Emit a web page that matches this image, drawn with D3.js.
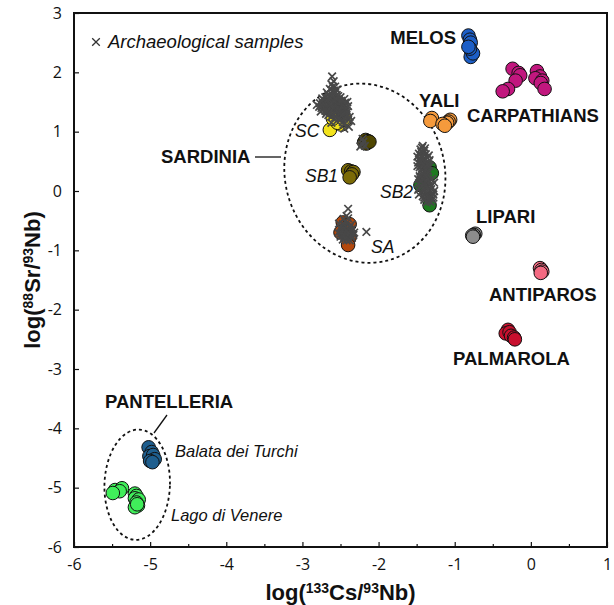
<!DOCTYPE html>
<html>
<head>
<meta charset="utf-8">
<script src="https://cdn.jsdelivr.net/npm/d3@7"></script>
<style>
  html, body { margin: 0; padding: 0; background: #fff; }
  svg { display: block; }
  .tick text { font-family: "Open Sans", "DejaVu Sans", sans-serif; font-size: 16px; fill: #111; }
  .lbl { font-family: "Liberation Sans", Arial, sans-serif; font-weight: bold; font-size: 18.5px; fill: #111; }
  .ita { font-family: "Liberation Sans", Arial, sans-serif; font-style: italic; font-size: 17.5px; fill: #111; }
  .ita.small { font-size: 16.5px; }
  .ita.legend { font-size: 18.5px; }
  .title { font-family: "Liberation Sans", Arial, sans-serif; font-weight: bold; font-size: 22px; fill: #111; }
</style>
</head>
<body>
<svg id="chart" width="614" height="605"></svg>
<script>
// Axis ticks
const xTicks = [-6, -5, -4, -3, -2, -1, 0, 1];
const yTicks = [3, 2, 1, 0, -1, -2, -3, -4, -5, -6];

// Geological source samples: [log(Cs/Nb), log(Sr/Nb)]
const melos = [[-0.82,2.62],[-0.80,2.55],[-0.79,2.50],[-0.78,2.35],[-0.77,2.30],[-0.79,2.26],[-0.76,2.32],[-0.80,2.40],[-0.82,2.43]];
const carpathians = [[-0.24,2.06],[-0.16,1.99],[-0.14,1.95],[-0.20,1.86],[-0.30,1.72],[-0.37,1.68],[0.08,2.02],[0.12,1.93],[0.06,1.90],[0.15,1.86],[0.13,1.82],[0.18,1.72]];
const yali = [[-1.30,1.23],[-1.32,1.18],[-1.06,1.20],[-1.08,1.17],[-1.10,1.15],[-1.16,1.13],[-1.13,1.10]];
const lipari = [[-0.73,-0.72],[-0.75,-0.74],[-0.77,-0.75],[-0.76,-0.77]];
const antiparos = [[0.12,-1.30],[0.14,-1.33],[0.15,-1.36],[0.13,-1.38]];
const palmarola = [[-0.30,-2.34],[-0.33,-2.40],[-0.28,-2.38],[-0.26,-2.44],[-0.22,-2.47],[-0.21,-2.50]];
const balata = [[-5.02,-4.32],[-4.98,-4.40],[-5.01,-4.47],[-4.96,-4.45],[-4.94,-4.52],[-5.00,-4.55],[-4.97,-4.57]];
const lagoVenere = [[-5.46,-5.04],[-5.37,-5.01],[-5.40,-5.06],[-5.49,-5.09],[-5.20,-5.10],[-5.18,-5.14],[-5.20,-5.18],[-5.15,-5.20],[-5.18,-5.25],[-5.16,-5.30],[-5.20,-5.33],[-5.17,-5.28]];
const sc = [[-2.64,1.03],[-2.49,1.12],[-2.44,1.20],[-2.54,1.15],[-2.60,1.22]];
const sbMid = [[-2.19,0.82],[-2.16,0.80],[-2.17,0.86],[-2.14,0.84],[-2.12,0.83]];
const sb1 = [[-2.40,0.35],[-2.36,0.33],[-2.33,0.32],[-2.35,0.28],[-2.38,0.23]];
const sb2 = [[-1.33,0.40],[-1.30,0.30],[-1.45,0.10],[-1.33,-0.24]];
const sa = [[-2.47,-0.53],[-2.38,-0.56],[-2.50,-0.70],[-2.38,-0.78],[-2.40,-0.91]];

// Archaeological samples (crosses)
const archSC = [[-2.61,1.93],[-2.59,1.85],[-2.62,1.80],[-2.57,1.76],[-2.64,1.72],[-2.55,1.70],[-2.60,1.68],
  [-2.78,1.42],[-2.74,1.50],[-2.72,1.38],[-2.70,1.58],[-2.69,1.30],[-2.67,1.46],[-2.66,1.62],[-2.65,1.36],[-2.63,1.52],
  [-2.62,1.25],[-2.61,1.44],[-2.60,1.58],[-2.58,1.33],[-2.57,1.49],[-2.56,1.40],[-2.55,1.62],[-2.54,1.28],[-2.53,1.54],
  [-2.52,1.45],[-2.51,1.36],[-2.50,1.58],[-2.49,1.22],[-2.48,1.48],[-2.47,1.40],[-2.46,1.31],[-2.45,1.55],[-2.44,1.44],
  [-2.43,1.26],[-2.42,1.36],[-2.41,1.50],[-2.40,1.20],[-2.76,1.34],[-2.73,1.44],[-2.71,1.52],[-2.68,1.40],[-2.66,1.28],
  [-2.64,1.58],[-2.63,1.40],[-2.59,1.47],[-2.58,1.55],[-2.56,1.32],[-2.54,1.46],[-2.52,1.38],[-2.50,1.28],[-2.48,1.35],
  [-2.46,1.46],[-2.44,1.34],[-2.42,1.28],[-2.62,1.15],[-2.55,1.18],[-2.47,1.16],[-2.39,1.08],[-2.36,1.18],[-2.45,1.05],
  [-2.81,1.45],[-2.68,1.66],[-2.58,1.64],
  [-2.75,1.40],[-2.72,1.47],[-2.70,1.35],[-2.69,1.52],[-2.67,1.41],[-2.65,1.48],[-2.64,1.31],[-2.62,1.38],[-2.61,1.52],
  [-2.60,1.40],[-2.59,1.29],[-2.57,1.43],[-2.56,1.55],[-2.55,1.36],[-2.53,1.41],[-2.52,1.51],[-2.51,1.30],[-2.50,1.43],
  [-2.49,1.52],[-2.48,1.42],[-2.47,1.29],[-2.45,1.38],[-2.44,1.49],[-2.43,1.40],[-2.41,1.33],[-2.40,1.43],[-2.62,1.63],
  [-2.58,1.69],[-2.60,1.76],[-2.63,1.47],[-2.66,1.55],[-2.53,1.60],[-2.57,1.24],[-2.52,1.22],[-2.45,1.22],[-2.68,1.34],
  [-2.74,1.56],[-2.77,1.48],[-2.38,1.25],[-2.46,1.12]];
const archMid = [[-2.22,0.78],[-2.20,0.83],[-2.18,0.76],[-2.24,0.75],[-2.21,0.88]];
const archSB2 = [[-1.42,0.76],[-1.45,0.70],[-1.40,0.68],[-1.47,0.63],[-1.43,0.60],[-1.38,0.62],[-1.46,0.55],[-1.41,0.54],
  [-1.36,0.56],[-1.48,0.48],[-1.44,0.47],[-1.39,0.46],[-1.35,0.49],[-1.46,0.40],[-1.42,0.39],[-1.37,0.41],[-1.33,0.42],
  [-1.45,0.33],[-1.40,0.32],[-1.35,0.34],[-1.43,0.27],[-1.38,0.26],[-1.44,0.66],[-1.39,0.72],
  [-1.45,0.20],[-1.40,0.21],[-1.35,0.19],[-1.47,0.13],[-1.42,0.12],[-1.37,0.14],[-1.32,0.12],[-1.46,0.05],[-1.41,0.04],
  [-1.36,0.06],[-1.31,0.03],[-1.44,-0.02],[-1.39,-0.03],[-1.34,-0.01],[-1.29,-0.04],[-1.42,-0.09],[-1.37,-0.10],
  [-1.32,-0.08],[-1.28,-0.11],[-1.40,-0.15],[-1.35,-0.16],[-1.30,-0.14],[-1.38,0.09],[-1.33,0.16],
  [-1.43,0.73],[-1.41,0.64],[-1.44,0.58],[-1.40,0.50],[-1.42,0.44],[-1.38,0.36],[-1.41,0.29],[-1.36,0.29],
  [-1.42,0.23],[-1.38,0.17],[-1.43,0.08],[-1.39,0.01],[-1.35,-0.06],[-1.40,-0.11],[-1.33,-0.12],[-1.37,0.24],
  [-1.45,0.50],[-1.36,0.44],[-1.46,0.25],[-1.31,0.08],[-1.37,-0.19],[-1.44,0.16],
  [-1.49,0.58],[-1.49,0.42],[-1.34,0.60],[-1.33,0.52],[-1.48,0.20],[-1.48,0.02],[-1.27,0.00],[-1.27,0.14],
  [-1.28,-0.06],[-1.30,0.20],[-1.47,-0.06],[-1.32,-0.18]];
const archSA = [[-2.40,-0.30],[-2.16,-0.69],[-2.46,-0.47],[-2.40,-0.46],[-2.52,-0.55],[-2.47,-0.56],[-2.42,-0.54],
  [-2.36,-0.57],[-2.50,-0.63],[-2.45,-0.62],[-2.40,-0.64],[-2.34,-0.63],[-2.53,-0.70],[-2.48,-0.71],[-2.43,-0.70],
  [-2.38,-0.72],[-2.32,-0.70],[-2.50,-0.77],[-2.45,-0.78],[-2.40,-0.77],[-2.35,-0.79],[-2.47,-0.82],[-2.42,-0.83],
  [-2.44,-0.51],[-2.49,-0.59],[-2.43,-0.60],[-2.38,-0.61],[-2.47,-0.66],[-2.42,-0.67],[-2.37,-0.67],[-2.51,-0.73],
  [-2.46,-0.74],[-2.41,-0.74],[-2.36,-0.75],[-2.44,-0.80],[-2.38,-0.83],[-2.33,-0.74],[-2.42,-0.42]];

const svg = d3.select("#chart");
const x = d3.scaleLinear().domain([-6, 1]).range([74, 607]);
const y = d3.scaleLinear().domain([-6, 3]).range([547, 13]);

// Axes with inward ticks
const xAxis = svg.append("g").attr("transform", `translate(0,${y(-6)})`)
  .call(d3.axisBottom(x).tickValues(xTicks).tickSizeInner(-5).tickSizeOuter(0).tickPadding(12).tickFormat(d3.format("d")));
svg.append("g").attr("transform", `translate(0,${y(-6)})`)
  .call(d3.axisBottom(x).tickValues(d3.range(-5.5, 1, 1)).tickSizeInner(-3).tickSizeOuter(0).tickFormat(""));
const yAxis = svg.append("g").attr("transform", `translate(${x(-6)},0)`)
  .call(d3.axisLeft(y).tickValues(yTicks).tickSizeInner(-5).tickSizeOuter(0).tickPadding(12).tickFormat(d3.format("d")));
svg.selectAll(".domain").remove();
svg.selectAll(".tick line").attr("stroke", "#111").attr("stroke-width", 1.2);
xAxis.selectAll(".tick text").text(d => d < 0 ? "-" + Math.abs(d) : d);
yAxis.selectAll(".tick text").text(d => d < 0 ? "-" + Math.abs(d) : d);

// Frame
svg.append("rect")
  .attr("x", x(-6)).attr("y", y(3))
  .attr("width", x(1) - x(-6)).attr("height", y(-6) - y(3))
  .attr("fill", "none").attr("stroke", "#111").attr("stroke-width", 2);

// Group outlines (dashed ellipses)
const ellipses = [
  { cx: -2.18, cy: 0.30, rx: 1.05, ry: 1.52, angle: -14 },
  { cx: -5.17, cy: -4.95, rx: 0.43, ry: 0.93, angle: 2 }
];
ellipses.forEach(e => {
  const px = x(e.cx), py = y(e.cy);
  svg.append("ellipse")
    .attr("cx", px).attr("cy", py)
    .attr("rx", x(e.cx + e.rx) - px).attr("ry", py - y(e.cy + e.ry))
    .attr("transform", `rotate(${e.angle},${px},${py})`)
    .attr("fill", "none").attr("stroke", "#111").attr("stroke-width", 1.8)
    .attr("stroke-dasharray", "3,3");
});

// Source groups as filled circles
const groups = [
  { data: melos, color: "#1c5ec6" },
  { data: carpathians, color: "#c1177e" },
  { data: yali, color: "#f59a3c" },
  { data: lipari, color: "#8c8c8c" },
  { data: antiparos, color: "#f46a82" },
  { data: palmarola, color: "#c8102e" },
  { data: balata, color: "#1e5e8e" },
  { data: lagoVenere, color: "#40ee5a" },
  { data: sc, color: "#f3e31c" },
  { data: sbMid, color: "#4f4600" },
  { data: sb1, color: "#7b6a06" },
  { data: sb2, color: "#1d7a1f" },
  { data: sa, color: "#b4480c" }
];
groups.forEach(g => {
  svg.append("g").selectAll("circle").data(g.data).join("circle")
    .attr("cx", d => x(d[0])).attr("cy", d => y(d[1])).attr("r", 6.8)
    .attr("fill", g.color).attr("stroke", "#111").attr("stroke-width", 1);
});

// Archaeological samples as crosses
const crossPath = (cx, cy, s) => `M${cx - s},${cy - s}L${cx + s},${cy + s}M${cx - s},${cy + s}L${cx + s},${cy - s}`;
const arch = [].concat(archSC, archMid, archSB2, archSA);
svg.append("g").selectAll("path").data(arch).join("path")
  .attr("d", d => crossPath(x(d[0]), y(d[1]), 3.8))
  .attr("stroke", "#484848").attr("stroke-width", 1.7).attr("fill", "none");

// Legend
svg.append("path").attr("d", crossPath(96, 42, 3.8)).attr("stroke", "#333").attr("stroke-width", 1.3);
svg.append("text").attr("class", "ita legend").attr("x", 108).attr("y", 48).text("Archaeological samples");

// Source labels
const labels = [
  { t: "MELOS", x: 456, y: 44, a: "end", c: "lbl" },
  { t: "CARPATHIANS", x: 467, y: 122, a: "start", c: "lbl" },
  { t: "YALI", x: 419, y: 107, a: "start", c: "lbl" },
  { t: "LIPARI", x: 476, y: 223, a: "start", c: "lbl" },
  { t: "ANTIPAROS", x: 489, y: 301, a: "start", c: "lbl" },
  { t: "PALMAROLA", x: 453, y: 365, a: "start", c: "lbl" },
  { t: "SARDINIA", x: 161, y: 163, a: "start", c: "lbl" },
  { t: "PANTELLERIA", x: 105, y: 408, a: "start", c: "lbl" },
  { t: "SC", x: 295, y: 137, a: "start", c: "ita" },
  { t: "SB1", x: 305, y: 182, a: "start", c: "ita" },
  { t: "SB2", x: 380, y: 198, a: "start", c: "ita" },
  { t: "SA", x: 371, y: 253, a: "start", c: "ita" },
  { t: "Balata dei Turchi", x: 175, y: 457, a: "start", c: "ita small" },
  { t: "Lago di Venere", x: 171, y: 521, a: "start", c: "ita small" }
];
svg.append("g").selectAll("text").data(labels).join("text")
  .attr("class", d => d.c).attr("x", d => d.x).attr("y", d => d.y)
  .attr("text-anchor", d => d.a).text(d => d.t);

// Leader lines
svg.append("line").attr("x1", 255).attr("y1", 157).attr("x2", 281).attr("y2", 157)
  .attr("stroke", "#111").attr("stroke-width", 1.3);
svg.append("line").attr("x1", 154).attr("y1", 433).attr("x2", 167).attr("y2", 415)
  .attr("stroke", "#111").attr("stroke-width", 1.3);

// Axis titles with isotope superscripts
const xt = svg.append("text").attr("class", "title").attr("x", x(-2.5)).attr("y", 600).attr("text-anchor", "middle");
xt.append("tspan").text("log(");
xt.append("tspan").attr("font-size", 14).attr("dy", -7).text("133");
xt.append("tspan").attr("dy", 7).text("Cs/");
xt.append("tspan").attr("font-size", 14).attr("dy", -7).text("93");
xt.append("tspan").attr("dy", 7).text("Nb)");

const yt = svg.append("text").attr("class", "title")
  .attr("transform", `translate(40,${y(-1.5)}) rotate(-90)`).attr("text-anchor", "middle");
yt.append("tspan").text("log(");
yt.append("tspan").attr("font-size", 14).attr("dy", -7).text("88");
yt.append("tspan").attr("dy", 7).text("Sr/");
yt.append("tspan").attr("font-size", 14).attr("dy", -7).text("93");
yt.append("tspan").attr("dy", 7).text("Nb)");
</script>
</body>
</html>
